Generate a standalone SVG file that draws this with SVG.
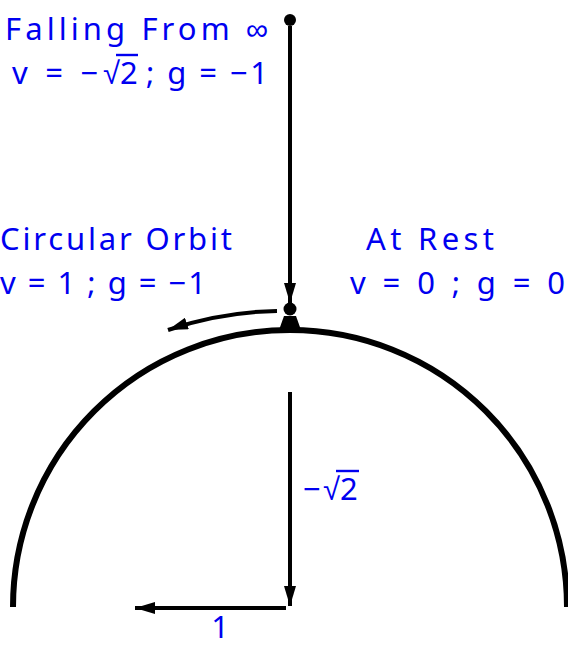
<svg xmlns="http://www.w3.org/2000/svg" width="568" height="648" viewBox="0 0 568 648">
<style>
text{font-family:"Noto Sans","Liberation Sans",sans-serif;fill:#0000f0;font-size:31px}
.ln{stroke:#000;fill:none;stroke-width:4}
.ov{stroke:#0000f0;stroke-width:2.4}
</style>
<defs>
<marker id="ah" viewBox="0 0 20 12" refX="20" refY="6" markerWidth="20" markerHeight="12" markerUnits="userSpaceOnUse" orient="auto"><path d="M0,0 L20,6 L0,12 Z" fill="#000"/></marker>
</defs>
<g id="planet"><path d="M13,607 A277,277 0 0 1 567,607" fill="none" stroke="#000" stroke-width="6"/></g>
<g id="start"><circle cx="290" cy="20" r="6" fill="#000"/></g>
<g id="ball"><circle cx="290" cy="309" r="6.5" fill="#000"/><path d="M284,316 L296,316 L301,330 L279,330 Z" fill="#000"/></g>
<g id="connectors">
<line class="ln" x1="290" y1="26" x2="290" y2="303" marker-end="url(#ah)"/>
<path class="ln" d="M277,311 Q220,312 168,330" stroke-width="3.5" marker-end="url(#ah)"/>
<line class="ln" x1="290" y1="392" x2="290" y2="606" marker-end="url(#ah)"/>
<line class="ln" x1="286" y1="608" x2="135" y2="608" marker-end="url(#ah)"/>
</g>
<g id="labels">
<text x="5" y="40" textLength="263" lengthAdjust="spacing">Falling From ∞</text>
<text x="12" y="84" textLength="108" lengthAdjust="spacing">v = −√</text>
<text x="120" y="84">2</text>
<line class="ov" x1="116" y1="55" x2="138" y2="55"/>
<text x="146" y="84" textLength="122" lengthAdjust="spacing">; g = −1</text>
<text x="0" y="250" textLength="232" lengthAdjust="spacing">Circular Orbit</text>
<text x="0" y="294" textLength="206" lengthAdjust="spacing">v = 1 ; g = −1</text>
<text x="366" y="250" textLength="128" lengthAdjust="spacing">At Rest</text>
<text x="350" y="294" textLength="215" lengthAdjust="spacing">v = 0 ; g = 0</text>
<text x="303" y="500" textLength="37" lengthAdjust="spacing">−√</text>
<text x="340" y="500">2</text>
<line class="ov" x1="336" y1="471" x2="359" y2="471"/>
<text x="220" y="638" text-anchor="middle">1</text>
</g>
</svg>
